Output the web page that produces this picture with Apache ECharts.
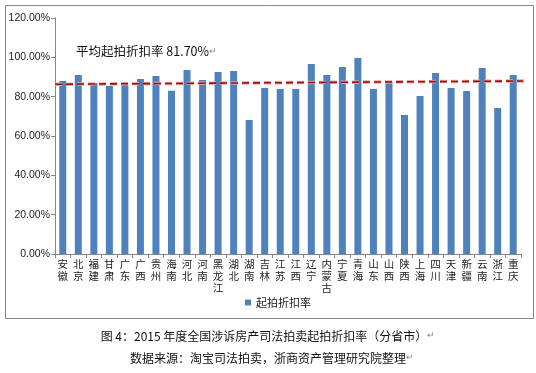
<!DOCTYPE html>
<html>
<head>
<meta charset="utf-8">
<script src="https://cdn.jsdelivr.net/npm/echarts@6/dist/echarts.min.js"></script>
<style>
html,body{margin:0;padding:0;background:#fff;}
#c{width:536px;height:373px;}
</style>
</head>
<body>
<div id="c"></div>
<script>
const provinces = ['安徽','北京','福建','甘肃','广东','广西','贵州','海南','河北','河南','黑龙江','湖北','湖南','吉林','江苏','江西','辽宁','内蒙古','宁夏','青海','山东','山西','陕西','上海','四川','天津','新疆','云南','浙江','重庆'];
const discountRate = [88.0,91.0,86.9,85.4,85.9,89.0,90.5,83.0,93.6,88.5,92.5,93.0,68.1,84.4,83.9,83.9,96.6,91.0,95.1,99.7,83.9,87.5,70.7,80.3,92.0,84.4,82.9,94.6,74.2,91.0];
const avgLinePos = [0, 1.026];
const avgLineVal = [86.3, 88.0];
const yTicks = [0,20,40,60,80,100,120];
const seriesName = '起拍折扣率';
const avgLabel = '平均起拍折扣率 81.70%';
const caption1 = '图 4：2015 年度全国涉诉房产司法拍卖起拍折扣率（分省市）';
const caption2 = '数据来源：淘宝司法拍卖，浙商资产管理研究院整理';

const chart = echarts.init(document.getElementById('c'), null, {renderer:'canvas'});
const cjk = '"Noto Sans CJK SC", sans-serif';
const avgData = avgLinePos.map((x,i)=>[x, avgLineVal[i]]);
const rich = {r:{fontSize:9, fill:'#888', color:'#888'}};
chart.setOption({
  backgroundColor:'#fff',
  animation:false,
  grid:{left:55, right:15, top:18, bottom:119, containLabel:false},
  legend:{
    data:[seriesName], left:240, top:292, itemWidth:6, itemHeight:6, itemGap:4,
    textStyle:{fontSize:11, color:'#222', fontFamily:cjk}, icon:'rect'
  },
  xAxis:[{
    type:'category', data:provinces,
    axisLine:{lineStyle:{color:'#868686', width:1}},
    axisTick:{show:true, length:4, lineStyle:{color:'#868686'}},
    axisLabel:{interval:0, margin:4, fontSize:10.5, lineHeight:12, color:'#222', fontFamily:cjk,
      formatter:v=>v.split('').join('\n'), verticalAlign:'top'}
  },{
    type:'value', min:0, max:1, show:false
  }],
  yAxis:{
    type:'value', min:yTicks[0], max:yTicks[yTicks.length-1], interval:20,
    axisLine:{show:true, lineStyle:{color:'#868686'}},
    axisTick:{show:true, length:4, lineStyle:{color:'#868686'}},
    splitLine:{show:false},
    axisLabel:{formatter:v=>v.toFixed(2)+'%', fontSize:10.5, color:'#222', fontFamily:'"Liberation Sans", Arial, sans-serif', margin:5}
  },
  series:[{
    name:seriesName, type:'bar', data:discountRate, barWidth:'45%',
    itemStyle:{color:'#4f81bd'}
  },{
    type:'line', xAxisIndex:1, data:avgData, symbol:'none', clip:false, silent:true,
    lineStyle:{color:'#eba4a4', width:3.5, type:[7,4]}, z:5
  },{
    type:'line', xAxisIndex:1, data:avgData, symbol:'none', clip:false, silent:true,
    lineStyle:{color:'#9a1010', width:1.6, type:[7,4]}, z:6
  }],
  graphic:[
    {type:'rect', shape:{x:5.5, y:5.5, width:528, height:313}, style:{fill:'none', stroke:'#868686', lineWidth:1}, z:-1},
    {type:'text', left:76, top:45, style:{text:avgLabel+'{r|↵}', rich:rich, fontSize:12.5, fill:'#111', fontFamily:cjk}},
    {type:'text', x:268, y:336, style:{text:caption1+'{r|↵}', rich:rich, fontSize:12, fill:'#111', fontFamily:cjk, align:'center', verticalAlign:'middle'}},
    {type:'text', x:272, y:358, style:{text:caption2+'{r|↵}', rich:rich, fontSize:12, fill:'#111', fontFamily:cjk, align:'center', verticalAlign:'middle'}}
  ]
});
</script>
</body>
</html>
